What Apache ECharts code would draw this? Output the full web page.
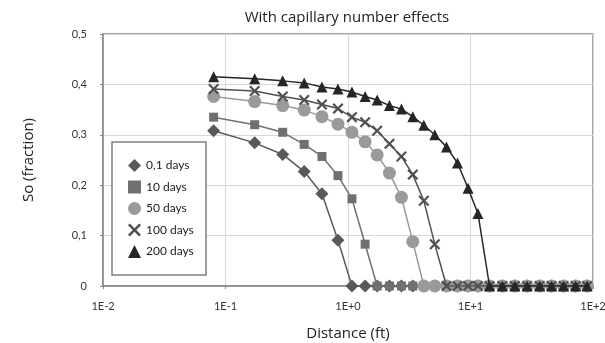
<!DOCTYPE html>
<html>
<head>
<meta charset="utf-8">
<script src="https://cdn.jsdelivr.net/npm/echarts@6/dist/echarts.min.js"></script>
<style>
  html, body { margin: 0; padding: 0; background: #fff; }
  #chart { width: 605px; height: 343px; }
</style>
</head>
<body>
<div id="chart"></div>
<script>
// grid positions along the distance axis (ft), shared by all curves
const distance = [0.08, 0.173, 0.293, 0.439, 0.613, 0.828, 1.077, 1.38, 1.73, 2.18, 2.73, 3.38,
  4.16, 5.11, 6.37, 7.83, 9.55, 11.5, 14.3, 18.2, 23.0, 29.0, 36.7, 45.9, 57.5, 72.1, 89.5];

const days01 = [0.308, 0.284, 0.261, 0.227, 0.183, 0.091, 0, 0, 0, 0, 0, 0, 0, 0, 0, 0, 0, 0, 0, 0, 0, 0, 0, 0, 0, 0, 0];
const days10 = [0.335, 0.320, 0.305, 0.281, 0.257, 0.219, 0.173, 0.083, 0, 0, 0, 0, 0, 0, 0, 0, 0, 0, 0, 0, 0, 0, 0, 0, 0, 0, 0];
const days50 = [0.376, 0.366, 0.358, 0.349, 0.336, 0.321, 0.305, 0.286, 0.260, 0.224, 0.176, 0.088, 0, 0, 0, 0, 0, 0, 0, 0, 0, 0, 0, 0, 0, 0, 0];
const days100 = [0.391, 0.387, 0.376, 0.369, 0.360, 0.352, 0.335, 0.325, 0.308, 0.282, 0.257, 0.221, 0.169, 0.083, 0, 0, 0, 0, 0, 0, 0, 0, 0, 0, 0, 0, 0];
const days200 = [0.415, 0.411, 0.407, 0.403, 0.395, 0.391, 0.385, 0.376, 0.369, 0.358, 0.351, 0.336, 0.319, 0.300, 0.276, 0.244, 0.194, 0.144, 0, 0, 0, 0, 0, 0, 0, 0, 0];

const seriesNames = ["0,1 days", "10 days", "50 days", "100 days", "200 days"];

const FONT = "Lato";
const NAME_FONT = "Open Sans";
const CROSS = "path://M1.4,0 L5,3.6 L8.6,0 L10,1.4 L6.4,5 L10,8.6 L8.6,10 L5,6.4 L1.4,10 L0,8.6 L3.6,5 L0,1.4 Z";

const chart = echarts.init(document.getElementById("chart"));

function pairs(ys) {
  return distance.map((x, i) => [x, ys[i]]);
}

const styles = [
  { data: days01, symbol: "diamond", size: 13, color: "#595959" },
  { data: days10, symbol: "rect", size: 9, color: "#707070" },
  { data: days50, symbol: "circle", size: 13, color: "#9a9a9a" },
  { data: days100, symbol: CROSS, size: 11, color: "#505050" },
  { data: days200, symbol: "triangle", size: 11, color: "#262626" },
];

const option = {
  animation: false,
  title: {
    text: "With capillary number effects",
    left: 342,
    textAlign: "center",
    top: 5,
    textStyle: { fontFamily: NAME_FONT, fontSize: 15, fontWeight: "normal", color: "#222" },
  },
  grid: {
    left: 103,
    right: 12,
    top: 34,
    bottom: 57,
    outerBoundsMode: "none",
    show: true,
    borderColor: "#888",
    borderWidth: 1.5,
  },
  legend: {
    orient: "vertical",
    left: 123,
    top: 154,
    itemWidth: 13,
    itemHeight: 13,
    itemGap: 8.5,
    textStyle: { fontFamily: FONT, fontSize: 12, color: "#222" },
    data: seriesNames.map((n, i) => ({ name: n, icon: styles[i].symbol })),
    z: 5,
  },
  graphic: [
    {
      type: "rect",
      z: 3,
      shape: { x: 112, y: 142, width: 94, height: 133 },
      style: { fill: "#fff", stroke: "#808080", lineWidth: 1.5 },
    },
  ],
  xAxis: {
    type: "log",
    logBase: 10,
    min: 0.01,
    max: 100,
    name: "Distance (ft)",
    nameLocation: "middle",
    nameGap: 40,
    nameTextStyle: { fontFamily: NAME_FONT, fontSize: 15, color: "#222" },
    axisLine: { show: true, lineStyle: { color: "#888", width: 1.5 } },
    axisTick: { show: true, length: 3, lineStyle: { color: "#888" } },
    minorTick: { show: false },
    axisLabel: {
      fontFamily: FONT,
      fontSize: 11,
      color: "#333",
      margin: 15,
      formatter: (v) => {
        const e = Math.round(Math.log10(v));
        return "1E" + (e >= 0 ? "+" : "") + e;
      },
    },
    splitLine: { show: true, lineStyle: { color: "#d8d8d8", width: 1 } },
  },
  yAxis: {
    type: "value",
    min: 0,
    max: 0.5,
    interval: 0.1,
    name: "So (fraction)",
    nameLocation: "middle",
    nameGap: 67,
    nameTextStyle: { fontFamily: NAME_FONT, fontSize: 15, color: "#222" },
    axisLine: { show: true, lineStyle: { color: "#888", width: 1.5 } },
    axisTick: { show: true, length: 3, lineStyle: { color: "#888" } },
    axisLabel: {
      fontFamily: FONT,
      fontSize: 11,
      color: "#333",
      margin: 16,
      formatter: (v) => (v === 0 ? "0" : v.toFixed(1).replace(".", ",")),
    },
    splitLine: { show: true, lineStyle: { color: "#d8d8d8", width: 1 } },
  },
  series: styles.map((s, i) => ({
    name: seriesNames[i],
    type: "line",
    data: pairs(s.data),
    symbol: s.symbol,
    symbolSize: s.size,
    showAllSymbol: true,
    color: s.color,
    lineStyle: { color: s.color, width: 1.5 },
    itemStyle: { color: s.color },
    z: 2 + i,
  })),
};

chart.setOption(option);
</script>
</body>
</html>
